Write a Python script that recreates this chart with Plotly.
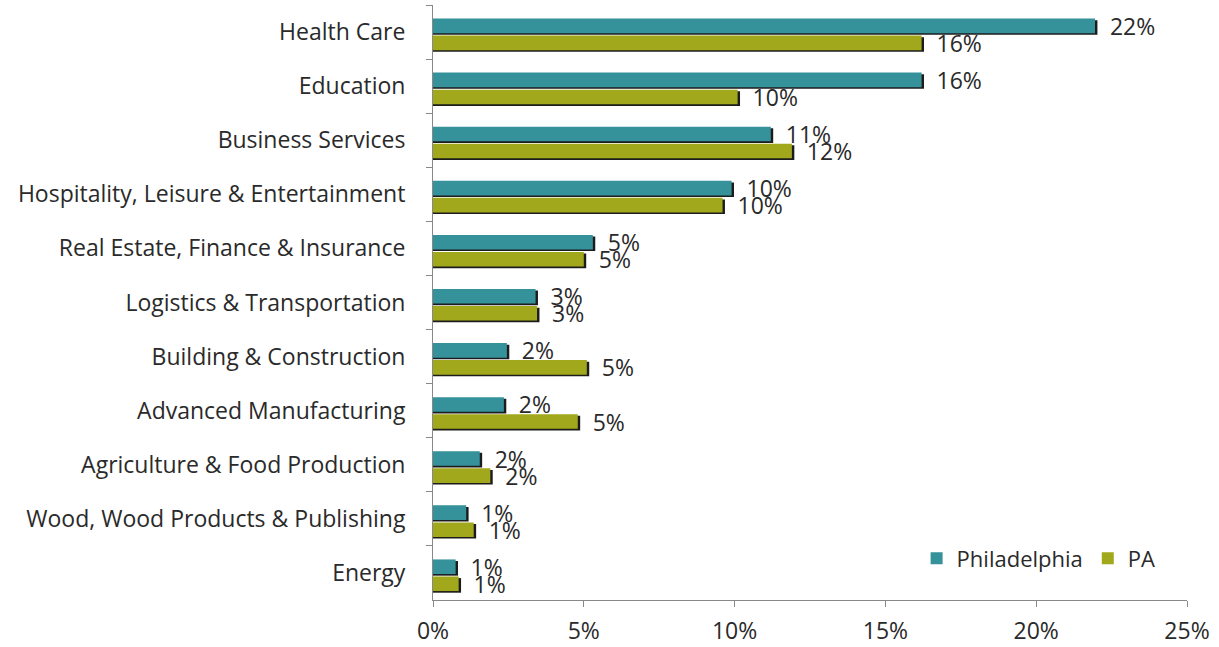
import plotly.graph_objects as go

categories = [
    "Health Care",
    "Education",
    "Business Services",
    "Hospitality, Leisure & Entertainment",
    "Real Estate, Finance & Insurance",
    "Logistics & Transportation",
    "Building & Construction",
    "Advanced Manufacturing",
    "Agriculture & Food Production",
    "Wood, Wood Products & Publishing",
    "Energy",
]
philadelphia = [21.95, 16.2, 11.2, 9.9, 5.3, 3.4, 2.45, 2.35, 1.55, 1.1, 0.75]
pa = [16.2, 10.1, 11.9, 9.6, 5.0, 3.45, 5.1, 4.8, 1.9, 1.35, 0.85]

TEAL = "#35919A"
OLIVE = "#A1A81B"
SHADOW = "#1c1c1c"
FONT = "Open Sans"
TXT = "#2a2a2a"
FS = 23

BAR_W = 0.27
OFF_PHL = -0.25
OFF_PA = 0.065
SH_DY = 0.03
SH_DX = 0.08

fig = go.Figure()

# shadow traces (drop shadow to the right / bottom, derived from data)
for vals, off in ((philadelphia, OFF_PHL), (pa, OFF_PA)):
    fig.add_trace(go.Bar(
        y=categories, x=[v + SH_DX for v in vals], orientation="h",
        marker=dict(color=SHADOW, line=dict(width=0)),
        width=BAR_W, offset=off + SH_DY, showlegend=False, hoverinfo="skip",
    ))

for name, vals, off, col in (("Philadelphia", philadelphia, OFF_PHL, TEAL),
                             ("PA", pa, OFF_PA, OLIVE)):
    fig.add_trace(go.Bar(
        y=categories, x=vals, orientation="h", name=name,
        marker=dict(color=col, line=dict(width=0)),
        width=BAR_W, offset=off,
        texttemplate="\u00a0\u00a0%{x:.0f}%", textposition="outside",
        constraintext="none",
        textfont=dict(family=FONT, size=FS, color=TXT),
        cliponaxis=False,
    ))

fig.update_layout(
    width=1219, height=647,
    barmode="overlay",
    plot_bgcolor="white", paper_bgcolor="white",
    margin=dict(l=433, r=32, t=5, b=47),
    font=dict(family=FONT, size=FS, color=TXT),
    legend=dict(orientation="h", x=0.965, xanchor="right", y=0.07, yanchor="middle",
                font=dict(family=FONT, size=FS - 1, color=TXT),
                bgcolor="rgba(0,0,0,0)", itemwidth=30, traceorder="normal"),
    xaxis=dict(range=[0, 25], dtick=5, ticksuffix="%", showgrid=False, zeroline=False,
               showline=True, linecolor="#888888", linewidth=1, automargin=False,
               ticks="outside", ticklen=6, tickcolor="#888888", ticklabelstandoff=4,
               tickfont=dict(family=FONT, size=FS, color=TXT)),
    yaxis=dict(categoryorder="array", categoryarray=categories, autorange="reversed",
               showgrid=False, showline=True, linecolor="#888888", linewidth=1,
               automargin=False,
               ticks="outside", ticklen=6, tickcolor="#888888", tickson="boundaries",
               ticklabelstandoff=22,
               tickfont=dict(family=FONT, size=FS, color=TXT)),
)

fig.write_html("out.html")
